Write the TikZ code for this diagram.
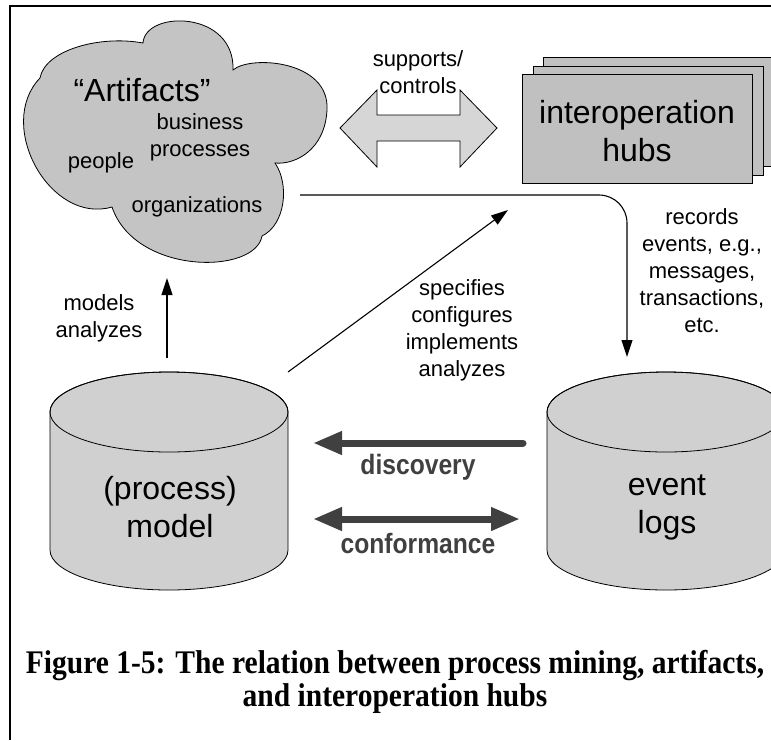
\documentclass[tikz,border=0pt]{standalone}
\usepackage{fontspec}
\setmainfont{Liberation Sans}
\newfontfamily\captionfont{Liberation Serif}
\usepackage{tikz}
\usetikzlibrary{arrows.meta}
\definecolor{CloudGray}{HTML}{c4c4c4}
\definecolor{HubGray}{HTML}{c0c0c0}
\definecolor{DrumGray}{HTML}{d0d0d0}
\definecolor{ArrowGray}{HTML}{d6d6d6}
\definecolor{MiningDark}{HTML}{404040}
\tikzset{
  bigtext/.style={font=\fontsize{32}{38}\selectfont, align=center, inner sep=0pt},
  smalltext/.style={font=\fontsize{22}{27}\selectfont, align=center, inner sep=0pt},
  thinarrow/.style={-{Triangle[length=17pt,width=11pt]}, line width=1.1pt},
  minearrow/.style={line width=7pt, draw=MiningDark, line cap=round},
  minetip/.tip={Triangle[length=29pt,width=22pt]},
  minelabel/.style={font=\bfseries\fontsize{28}{30}\selectfont, text=MiningDark, inner sep=0pt,
    xscale=0.88, transform shape},
  hub/.style={draw, line width=0.8pt, fill=HubGray},
  drum/.style={draw, line width=0.8pt, fill=DrumGray},
}

\begin{document}
\begin{tikzpicture}[x=1pt,y=-1pt]
    \useasboundingbox (0,0) rectangle (771,740);
    \draw[line width=1.6pt] (10,740) -- (10,6) -- (771,6);

    % artifacts cloud
    \filldraw[fill=CloudGray, line width=0.8pt] (40,78)
      .. controls (45,50) and (100,35) .. (143,43)
      .. controls (145,10) and (235,10) .. (233,70)
      .. controls (250,55) and (330,60) .. (327,110)
      .. controls (325,150) and (295,165) .. (275,163)
      .. controls (290,185) and (285,225) .. (262,236)
      .. controls (255,275) and (135,275) .. (112,207)
      .. controls (50,225) and (-5,125) .. (40,78) -- cycle;
    \node[bigtext] (artifacts) at (142,90) {``Artifacts''};
    \node[smalltext] (business) at (200,137.5) {business\\processes};
    \node[smalltext] (people) at (101,163) {people};
    \node[smalltext] (organizations) at (197,207) {organizations};

    % supports/controls
    \filldraw[fill=ArrowGray, line width=0.8pt] (340,128) -- (377,90) -- (377,115) -- (460,115)
      -- (460,90) -- (497,128) -- (460,167) -- (460,141) -- (377,141) -- (377,167) -- cycle;
    \node[smalltext] (supports) at (418,72.5) {supports/\\controls};

    % interoperation hubs
    \foreach \dx/\y in {21/57,11/66,0/74} {
     \draw[hub] (522+\dx,\y) rectangle ++(230,109);
    }
    \node[bigtext] (hubs) at (637,131.5) {interoperation\\hubs};

    % databases
    \foreach \cx/\name/\txt in {169/model/{(process)\\model},666/logs/{event\\logs}} {
     \filldraw[drum] (\cx-119,412) -- (\cx-119,550)
       arc[start angle=180,end angle=360,x radius=119pt,y radius=40pt] -- (\cx+119,412)
       arc[start angle=0,end angle=180,x radius=119pt,y radius=40pt] -- cycle;
     \draw[line width=0.8pt] (\cx,412) ellipse[x radius=119pt,y radius=40pt];
     \node[bigtext] (\name) at (\cx+1,507.5) {\txt};
    }

    % connectors
    \coordinate (artout) at (300,195);
    \coordinate (logtop) at (627,357);
    \coordinate (modeltop) at (167,358);
    \coordinate (cloudbot) at (167,278);
    \coordinate (modelne) at (288,372);
    \coordinate (hubsw) at (508,210);
    \draw[thinarrow, rounded corners=28pt] (artout) -- (artout -| logtop) -- (logtop);
    \draw[thinarrow] (modeltop) -- (cloudbot);
    \draw[thinarrow] (modelne) -- (hubsw);
    \node[smalltext] (records) at (702,271) {records\\events, e.g.,\\messages,\\transactions,\\etc.};
    \node[smalltext] (models) at (99,318) {models\\analyzes};
    \node[smalltext] (specifies) at (462,330) {specifies\\configures\\implements\\analyzes};

    % discovery and conformance
    \coordinate (logsw) at (523,443);
    \coordinate (modele) at (313,443);
    \coordinate (modelconf) at (313,519);
    \coordinate (logsconf) at (520,519);
    \draw[minearrow, -{minetip[fill=MiningDark]}] (logsw) -- (modele);
    \draw[minearrow, {minetip[fill=MiningDark]}-{minetip[fill=MiningDark]}] (modelconf) -- (logsconf);
    \node[minelabel] (discovery) at (418,467) {discovery};
    \node[minelabel] (conformance) at (418,543) {conformance};

    \node[font=\captionfont\bfseries\fontsize{33}{33}\selectfont, align=center, inner sep=0pt,
      xscale=0.895, transform shape] (caption) at (395,681.5)
      {Figure 1-5: The relation between process mining, artifacts,\\and interoperation hubs};
\end{tikzpicture}
\end{document}
